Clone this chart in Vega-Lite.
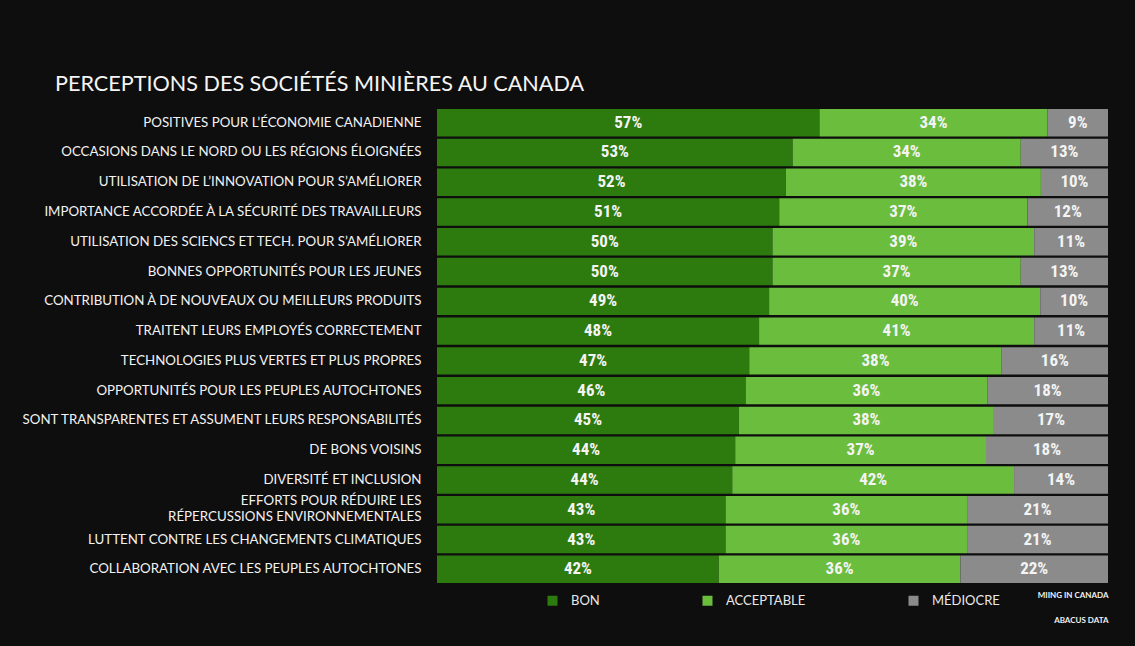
{
  "$schema": "https://vega.github.io/schema/vega-lite/v6.json",
  "width": 671,
  "height": 474,
  "autosize": "none",
  "padding": {"left": 437, "top": 109, "right": 27, "bottom": 63},
  "background": "#0e0e0e",
  "config": {"view": {"stroke": null}},
  "title": {
    "text": "PERCEPTIONS DES SOCIÉTÉS MINIÈRES AU CANADA",
    "anchor": "start",
    "frame": "group",
    "dx": -382,
    "offset": -4,
    "baseline": "alphabetic",
    "font": "Lato",
    "fontSize": 21.6,
    "fontWeight": "normal",
    "color": "#f4f4f4"
  },
  "data": {
    "values": [
      {"item": "POSITIVES POUR L’ÉCONOMIE CANADIENNE", "cat": "BON", "order": 1, "value": 57},
      {"item": "POSITIVES POUR L’ÉCONOMIE CANADIENNE", "cat": "ACCEPTABLE", "order": 2, "value": 34},
      {"item": "POSITIVES POUR L’ÉCONOMIE CANADIENNE", "cat": "MÉDIOCRE", "order": 3, "value": 9},
      {"item": "OCCASIONS DANS LE NORD OU LES RÉGIONS ÉLOIGNÉES", "cat": "BON", "order": 1, "value": 53},
      {"item": "OCCASIONS DANS LE NORD OU LES RÉGIONS ÉLOIGNÉES", "cat": "ACCEPTABLE", "order": 2, "value": 34},
      {"item": "OCCASIONS DANS LE NORD OU LES RÉGIONS ÉLOIGNÉES", "cat": "MÉDIOCRE", "order": 3, "value": 13},
      {"item": "UTILISATION DE L’INNOVATION POUR S’AMÉLIORER", "cat": "BON", "order": 1, "value": 52},
      {"item": "UTILISATION DE L’INNOVATION POUR S’AMÉLIORER", "cat": "ACCEPTABLE", "order": 2, "value": 38},
      {"item": "UTILISATION DE L’INNOVATION POUR S’AMÉLIORER", "cat": "MÉDIOCRE", "order": 3, "value": 10},
      {"item": "IMPORTANCE ACCORDÉE À LA SÉCURITÉ DES TRAVAILLEURS", "cat": "BON", "order": 1, "value": 51},
      {"item": "IMPORTANCE ACCORDÉE À LA SÉCURITÉ DES TRAVAILLEURS", "cat": "ACCEPTABLE", "order": 2, "value": 37},
      {"item": "IMPORTANCE ACCORDÉE À LA SÉCURITÉ DES TRAVAILLEURS", "cat": "MÉDIOCRE", "order": 3, "value": 12},
      {"item": "UTILISATION DES SCIENCS ET TECH. POUR S’AMÉLIORER", "cat": "BON", "order": 1, "value": 50},
      {"item": "UTILISATION DES SCIENCS ET TECH. POUR S’AMÉLIORER", "cat": "ACCEPTABLE", "order": 2, "value": 39},
      {"item": "UTILISATION DES SCIENCS ET TECH. POUR S’AMÉLIORER", "cat": "MÉDIOCRE", "order": 3, "value": 11},
      {"item": "BONNES OPPORTUNITÉS POUR LES JEUNES", "cat": "BON", "order": 1, "value": 50},
      {"item": "BONNES OPPORTUNITÉS POUR LES JEUNES", "cat": "ACCEPTABLE", "order": 2, "value": 37},
      {"item": "BONNES OPPORTUNITÉS POUR LES JEUNES", "cat": "MÉDIOCRE", "order": 3, "value": 13},
      {"item": "CONTRIBUTION À DE NOUVEAUX OU MEILLEURS PRODUITS", "cat": "BON", "order": 1, "value": 49},
      {"item": "CONTRIBUTION À DE NOUVEAUX OU MEILLEURS PRODUITS", "cat": "ACCEPTABLE", "order": 2, "value": 40},
      {"item": "CONTRIBUTION À DE NOUVEAUX OU MEILLEURS PRODUITS", "cat": "MÉDIOCRE", "order": 3, "value": 10},
      {"item": "TRAITENT LEURS EMPLOYÉS CORRECTEMENT", "cat": "BON", "order": 1, "value": 48},
      {"item": "TRAITENT LEURS EMPLOYÉS CORRECTEMENT", "cat": "ACCEPTABLE", "order": 2, "value": 41},
      {"item": "TRAITENT LEURS EMPLOYÉS CORRECTEMENT", "cat": "MÉDIOCRE", "order": 3, "value": 11},
      {"item": "TECHNOLOGIES PLUS VERTES ET PLUS PROPRES", "cat": "BON", "order": 1, "value": 47},
      {"item": "TECHNOLOGIES PLUS VERTES ET PLUS PROPRES", "cat": "ACCEPTABLE", "order": 2, "value": 38},
      {"item": "TECHNOLOGIES PLUS VERTES ET PLUS PROPRES", "cat": "MÉDIOCRE", "order": 3, "value": 16},
      {"item": "OPPORTUNITÉS POUR LES PEUPLES AUTOCHTONES", "cat": "BON", "order": 1, "value": 46},
      {"item": "OPPORTUNITÉS POUR LES PEUPLES AUTOCHTONES", "cat": "ACCEPTABLE", "order": 2, "value": 36},
      {"item": "OPPORTUNITÉS POUR LES PEUPLES AUTOCHTONES", "cat": "MÉDIOCRE", "order": 3, "value": 18},
      {"item": "SONT TRANSPARENTES ET ASSUMENT LEURS RESPONSABILITÉS", "cat": "BON", "order": 1, "value": 45},
      {"item": "SONT TRANSPARENTES ET ASSUMENT LEURS RESPONSABILITÉS", "cat": "ACCEPTABLE", "order": 2, "value": 38},
      {"item": "SONT TRANSPARENTES ET ASSUMENT LEURS RESPONSABILITÉS", "cat": "MÉDIOCRE", "order": 3, "value": 17},
      {"item": "DE BONS VOISINS", "cat": "BON", "order": 1, "value": 44},
      {"item": "DE BONS VOISINS", "cat": "ACCEPTABLE", "order": 2, "value": 37},
      {"item": "DE BONS VOISINS", "cat": "MÉDIOCRE", "order": 3, "value": 18},
      {"item": "DIVERSITÉ ET INCLUSION", "cat": "BON", "order": 1, "value": 44},
      {"item": "DIVERSITÉ ET INCLUSION", "cat": "ACCEPTABLE", "order": 2, "value": 42},
      {"item": "DIVERSITÉ ET INCLUSION", "cat": "MÉDIOCRE", "order": 3, "value": 14},
      {"item": "EFFORTS POUR RÉDUIRE LES RÉPERCUSSIONS ENVIRONNEMENTALES", "cat": "BON", "order": 1, "value": 43},
      {"item": "EFFORTS POUR RÉDUIRE LES RÉPERCUSSIONS ENVIRONNEMENTALES", "cat": "ACCEPTABLE", "order": 2, "value": 36},
      {"item": "EFFORTS POUR RÉDUIRE LES RÉPERCUSSIONS ENVIRONNEMENTALES", "cat": "MÉDIOCRE", "order": 3, "value": 21},
      {"item": "LUTTENT CONTRE LES CHANGEMENTS CLIMATIQUES", "cat": "BON", "order": 1, "value": 43},
      {"item": "LUTTENT CONTRE LES CHANGEMENTS CLIMATIQUES", "cat": "ACCEPTABLE", "order": 2, "value": 36},
      {"item": "LUTTENT CONTRE LES CHANGEMENTS CLIMATIQUES", "cat": "MÉDIOCRE", "order": 3, "value": 21},
      {"item": "COLLABORATION AVEC LES PEUPLES AUTOCHTONES", "cat": "BON", "order": 1, "value": 42},
      {"item": "COLLABORATION AVEC LES PEUPLES AUTOCHTONES", "cat": "ACCEPTABLE", "order": 2, "value": 36},
      {"item": "COLLABORATION AVEC LES PEUPLES AUTOCHTONES", "cat": "MÉDIOCRE", "order": 3, "value": 22}
    ]
  },
  "transform": [
    {"stack": "value", "groupby": ["item"], "sort": [{"field": "order"}], "offset": "normalize", "as": ["v0", "v1"]},
    {"calculate": "(datum.v0 + datum.v1) / 2", "as": "mid"},
    {"calculate": "datum.value + '%'", "as": "lab"}
  ],
  "encoding": {
    "y": {
      "field": "item",
      "type": "nominal",
      "sort": null,
      "scale": {"paddingInner": 0.08, "paddingOuter": 0},
      "axis": {
        "title": null,
        "ticks": false,
        "domain": false,
        "labelColor": "#f2f2f2",
        "labelFont": "Lato",
        "labelFontSize": 13.3,
        "labelPadding": 16,
        "labelLimit": 500,
        "labelLineHeight": 16,
        "labelOffset": {"condition": {"test": "datum.value == 'EFFORTS POUR RÉDUIRE LES RÉPERCUSSIONS ENVIRONNEMENTALES'", "value": -9}, "value": 0},
        "labelExpr": "datum.value == 'EFFORTS POUR RÉDUIRE LES RÉPERCUSSIONS ENVIRONNEMENTALES' ? ['EFFORTS POUR RÉDUIRE LES', 'RÉPERCUSSIONS ENVIRONNEMENTALES'] : datum.value"
      }
    }
  },
  "layer": [
    {
      "mark": {"type": "bar"},
      "encoding": {
        "x": {
          "field": "v0",
          "type": "quantitative",
          "scale": {"domain": [0, 1], "nice": false},
          "axis": {
            "title": ["MIING IN CANADA", "ABACUS DATA"],
            "titleAnchor": "end",
            "titleAlign": "right",
            "titleColor": "#f2f2f2",
            "titleFont": "Lato",
            "titleFontSize": 8,
            "titleFontWeight": "bold",
            "titleLineHeight": 25,
            "titlePadding": 8,
            "labels": false,
            "ticks": false,
            "domain": false,
            "grid": false
          }
        },
        "x2": {"field": "v1"},
        "color": {
          "field": "cat",
          "type": "nominal",
          "sort": ["BON", "ACCEPTABLE", "MÉDIOCRE"],
          "scale": {"domain": ["BON", "ACCEPTABLE", "MÉDIOCRE"], "range": ["#2d7a0e", "#6bbd3e", "#8b8b8b"]},
          "legend": {
            "title": null,
            "orient": "none",
            "legendX": 109,
            "legendY": 485,
            "direction": "horizontal",
            "columns": 3,
            "columnPadding": 101,
            "symbolType": "square",
            "symbolSize": 100,
            "symbolStrokeWidth": 0,
            "symbolOpacity": 1,
            "labelOffset": 12,
            "labelColor": "#e8e8e8",
            "labelFont": "Lato",
            "labelFontSize": 13
          }
        }
      }
    },
    {
      "mark": {"type": "text", "font": "Liberation Sans Narrow, Roboto Condensed, Arial Narrow, sans-serif", "fontWeight": "bold", "fontSize": 17, "color": "#f4f4f4"},
      "encoding": {
        "x": {"field": "mid", "type": "quantitative"},
        "text": {"field": "lab", "type": "nominal"}
      }
    }
  ]
}
